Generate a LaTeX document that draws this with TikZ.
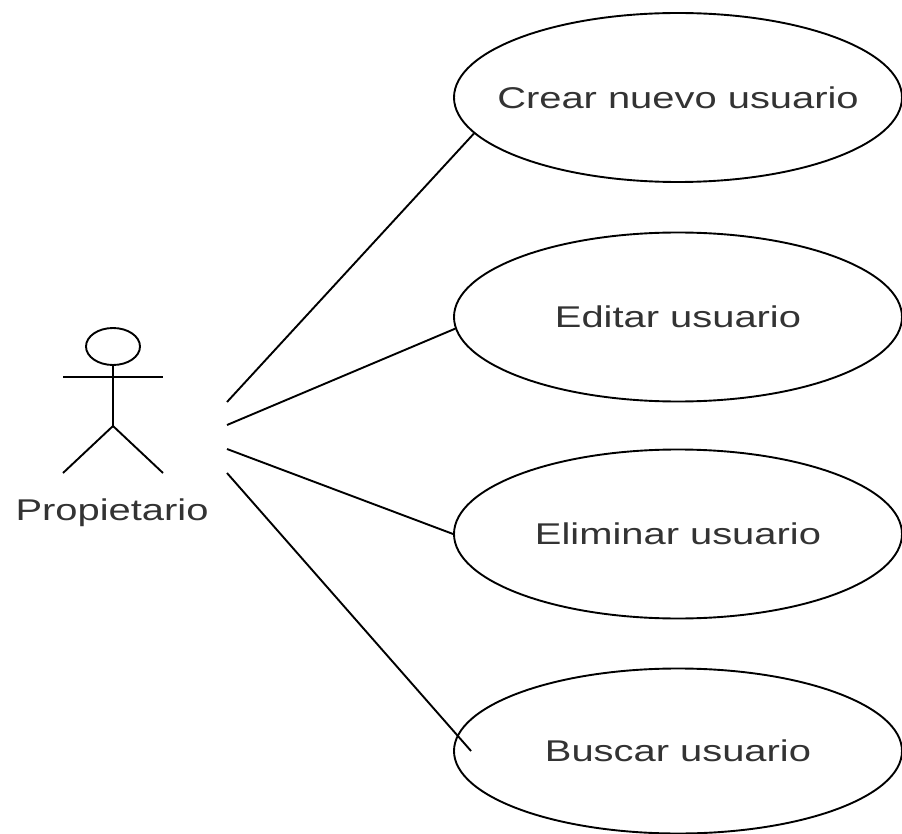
\documentclass[tikz,border=0pt]{standalone}
\usepackage{fontspec}
\setmainfont{Liberation Sans}
\usetikzlibrary{shapes.geometric}

\definecolor{txtgray}{HTML}{333333}
\newcommand{\widetext}[1]{\scalebox{1.33}[1]{#1}}
\newcommand{\casetext}[1]{\makebox[0pt]{\widetext{#1}}}

\tikzset{
  usecase/.style={draw, ellipse, line width=1.9pt, inner sep=0pt,
    minimum width=448pt, minimum height=169pt, text=txtgray,
    font=\fontsize{30}{36}\selectfont},
  stick/.style={line width=1.9pt},
  link/.style={line width=1.9pt}
}

\begin{document}
\begin{tikzpicture}[x=1pt,y=-1pt]
  \useasboundingbox (0,0) rectangle (902,834);

  % actor
  \draw[stick] (113,346.5) ellipse [x radius=27, y radius=18.5];
  \draw[stick] (113,365) -- (113,426);
  \draw[stick] (63,377) -- (163,377);
  \draw[stick] (63,473) -- (113,426) -- (163,473);
  \node[text=txtgray, font=\fontsize{30}{36}\selectfont] (propietario) at (112,513) {\widetext{Propietario}};

  % use cases
  \node[usecase] (crear) at (678,97.5) {\casetext{Crear nuevo usuario}};
  \node[usecase] (editar) at (678,317) {\casetext{Editar usuario}};
  \node[usecase] (eliminar) at (678,534) {\casetext{Eliminar usuario}};
  \node[usecase, minimum height=165pt] (buscar) at (678,751) {\casetext{Buscar usuario}};

  \coordinate (s1) at (227,402);
  \coordinate (s2) at (227,425);
  \coordinate (s3) at (227,449);
  \coordinate (s4) at (227,473);

  \draw[link] (s1) -- (crear.190);
  \draw[link] (s2) -- (editar.183);
  \draw[link] (s3) -- (eliminar.180);
  \draw[link] (s4) -- ([xshift=18pt]buscar.west);
\end{tikzpicture}
\end{document}
